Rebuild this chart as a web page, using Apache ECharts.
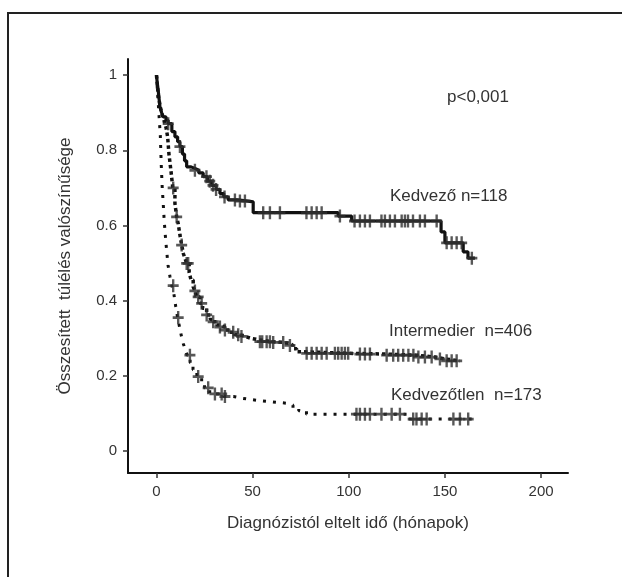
<!DOCTYPE html>
<html>
<head>
<meta charset="utf-8">
<script src="https://cdn.jsdelivr.net/npm/echarts@6/dist/echarts.min.js"></script>
<style>
  html, body { margin: 0; padding: 0; background: #fff; }
  #chart { width: 622px; height: 577px; }
</style>
</head>
<body>
<div id="chart"></div>
<script>
  // tick labels
  const xTicks = [0, 50, 100, 150, 200]
  const yTicks = [0, 0.2, 0.4, 0.6, 0.8, 1]

  // Kedvező n=118 (solid)
  const kedvezoTime = [0, 0.4, 0.9, 1.8, 2.7, 3.5, 5, 6.1, 8, 9.6, 11, 12.2, 13.5, 14.6, 15.7, 18, 20, 22, 24.3, 26.5, 28.7, 31, 33, 35, 37.3, 42, 47.7, 50.3, 94.5, 101.5, 148, 150, 159.5, 162, 165.6]
  const kedvezoSurv = [1, 0.98, 0.96, 0.916, 0.9, 0.889, 0.88, 0.871, 0.85, 0.836, 0.823, 0.81, 0.79, 0.772, 0.756, 0.752, 0.747, 0.74, 0.73, 0.718, 0.707, 0.696, 0.685, 0.676, 0.668, 0.665, 0.663, 0.634, 0.625, 0.612, 0.583, 0.554, 0.53, 0.513, 0.513]
  const kedvezoCensor = [6.1, 12.2, 20, 26, 27.7, 29.4, 31, 35.4, 40.8, 43.4, 46, 55.5, 59, 64.2, 78, 80.7, 83.3, 85.9, 95.4, 103, 105.8, 108.4, 111, 117, 118.8, 121.4, 124, 127.5, 129.2, 130.8, 133.4, 137, 139.6, 145.7, 150.9, 153.5, 156.1, 158.7, 164]

  // Intermedier n=406 (heavy dots)
  const intermedierTime = [0, 0.5, 1, 2, 3, 4, 5, 5.8, 6.5, 7.5, 8.5, 9.6, 10.5, 11.3, 12.2, 13.1, 14, 15, 15.7, 17, 18, 19.1, 20, 21, 22.6, 24, 26.1, 28, 29.5, 31.3, 33, 35.6, 38, 40.8, 43, 46, 49, 53, 60, 66, 69.4, 71, 72.9, 76, 100, 118, 135, 145, 150, 157.8]
  const intermedierSurv = [1, 0.97, 0.945, 0.915, 0.895, 0.878, 0.86, 0.836, 0.79, 0.747, 0.7, 0.659, 0.623, 0.605, 0.575, 0.548, 0.525, 0.51, 0.499, 0.475, 0.455, 0.437, 0.426, 0.41, 0.393, 0.38, 0.362, 0.35, 0.344, 0.335, 0.33, 0.322, 0.316, 0.309, 0.305, 0.3, 0.296, 0.291, 0.289, 0.286, 0.281, 0.272, 0.264, 0.26, 0.258, 0.255, 0.25, 0.245, 0.24, 0.24]
  const intermedierCensor = [8.7, 10.5, 13.1, 15.7, 16.5, 20, 21.7, 23.5, 26.1, 29.5, 33, 35.6, 39.9, 42.5, 44.2, 53.8, 55, 57.3, 59, 60.7, 65.9, 69.4, 78.1, 80.7, 83.3, 85.9, 88.5, 92.8, 94.5, 96.3, 98, 99.7, 105.8, 108.4, 111, 119.7, 123.1, 125.7, 128.3, 131, 133.6, 136.2, 139.6, 143.1, 147.4, 150.9, 153.5, 156.1]

  // Kedvezőtlen n=173 (fine dots)
  const kedvezotlenTime = [0, 0.5, 1, 1.5, 2, 2.5, 3, 3.5, 4, 4.5, 5, 6, 7, 8, 9, 10, 11, 12, 13, 14, 15, 16, 17.5, 19, 21, 23.5, 25, 27, 30, 35, 40, 45, 52, 60, 68, 71, 74, 78, 130.5, 164]
  const kedvezotlenSurv = [1, 0.96, 0.92, 0.88, 0.84, 0.76, 0.7, 0.66, 0.615, 0.58, 0.55, 0.495, 0.465, 0.44, 0.42, 0.385, 0.355, 0.33, 0.305, 0.285, 0.27, 0.255, 0.235, 0.216, 0.198, 0.18, 0.168, 0.158, 0.152, 0.145, 0.14, 0.135, 0.131, 0.127, 0.122, 0.115, 0.107, 0.098, 0.085, 0.085]
  const kedvezotlenCensor = [8.7, 11.3, 17.4, 21.7, 26.9, 30.4, 33.9, 35.6, 104, 105.8, 108.4, 111, 117, 122.3, 126.6, 133.5, 135.2, 137.9, 140.5, 154.4, 157.8, 162.1]

  const FONT = '"Liberation Sans", Arial, sans-serif'
  const TEXT = '#333'
  // "+" jel a cenzorált esetekhez
  const PLUS = 'path://M4.7,0L7.3,0L7.3,12L4.7,12Z M0,4.7L12,4.7L12,7.3L0,7.3Z'

  function zip (xs, ys) {
    return xs.map((x, i) => [x, ys[i]])
  }

  // a cenzor jel a lépcsős görbén ül
  function onCurve (times, surv, censor) {
    return censor.map(t => {
      let v = surv[0]
      for (let i = 0; i < times.length; i++) {
        if (times[i] <= t) v = surv[i]
      }
      return [t, v]
    })
  }

  function curve (name, times, surv, lineStyle) {
    return {
      name,
      type: 'line',
      step: 'end',
      showSymbol: false,
      silent: true,
      data: zip(times, surv),
      lineStyle: Object.assign({color: '#111', cap: 'butt'}, lineStyle),
      z: 2
    }
  }

  function marks (name, times, surv, censor) {
    return {
      name,
      type: 'scatter',
      symbol: PLUS,
      symbolSize: [11, 13],
      silent: true,
      data: onCurve(times, surv, censor),
      itemStyle: {color: '#2e2e2e'},
      z: 3
    }
  }

  const chart = echarts.init(document.getElementById('chart'))
  chart.setOption({
    backgroundColor: '#fff',
    animation: false,
    textStyle: {fontFamily: FONT},
    grid: {left: 128, top: 59, width: 440, height: 414, containLabel: false},
    xAxis: {
      type: 'value',
      min: -14.8,
      max: 214,
      name: 'Diagnózistól eltelt idő (hónapok)',
      nameLocation: 'middle',
      nameGap: 42,
      nameTextStyle: {fontSize: 17, color: TEXT, fontFamily: FONT},
      axisLine: {onZero: false, lineStyle: {color: '#111', width: 2}},
      axisTick: {customValues: xTicks, length: 5, lineStyle: {color: '#333', width: 1.5}},
      axisLabel: {customValues: xTicks, fontSize: 15, color: TEXT, margin: 11, fontFamily: FONT},
      splitLine: {show: false}
    },
    yAxis: {
      type: 'value',
      min: -0.0585,
      max: 1.043,
      name: 'Összesített  túlélés valószínűsége',
      nameLocation: 'middle',
      nameGap: 54,
      nameTextStyle: {fontSize: 17, color: TEXT, fontFamily: FONT},
      axisLine: {onZero: false, lineStyle: {color: '#111', width: 2}},
      axisTick: {customValues: yTicks, length: 5, lineStyle: {color: '#333', width: 1.5}},
      axisLabel: {customValues: yTicks, fontSize: 15, color: TEXT, margin: 11, fontFamily: FONT},
      splitLine: {show: false}
    },
    series: [
      curve('Kedvező', kedvezoTime, kedvezoSurv, {width: 3.2, type: 'solid'}),
      curve('Intermedier', intermedierTime, intermedierSurv, {width: 3.5, type: [3.5, 3]}),
      curve('Kedvezőtlen', kedvezotlenTime, kedvezotlenSurv, {width: 3, type: [3, 7]}),
      marks('Kedvező', kedvezoTime, kedvezoSurv, kedvezoCensor),
      marks('Intermedier', intermedierTime, intermedierSurv, intermedierCensor),
      marks('Kedvezőtlen', kedvezotlenTime, kedvezotlenSurv, kedvezotlenCensor)
    ],
    graphic: [
      {
        type: 'polyline',
        silent: true,
        shape: {points: [[8, 577], [8, 13], [622, 13]]},
        style: {stroke: '#222', lineWidth: 2, fill: null}
      },
      {type: 'text', left: 447, top: 89, style: {text: 'p<0,001', fontSize: 17, fontFamily: FONT, fill: TEXT}},
      {type: 'text', left: 390, top: 188, style: {text: 'Kedvező n=118', fontSize: 17, fontFamily: FONT, fill: TEXT}},
      {type: 'text', left: 389, top: 323, style: {text: 'Intermedier  n=406', fontSize: 17, fontFamily: FONT, fill: TEXT}},
      {type: 'text', left: 391, top: 387, style: {text: 'Kedvezőtlen  n=173', fontSize: 17, fontFamily: FONT, fill: TEXT}}
    ]
  })
</script>
</body>
</html>
